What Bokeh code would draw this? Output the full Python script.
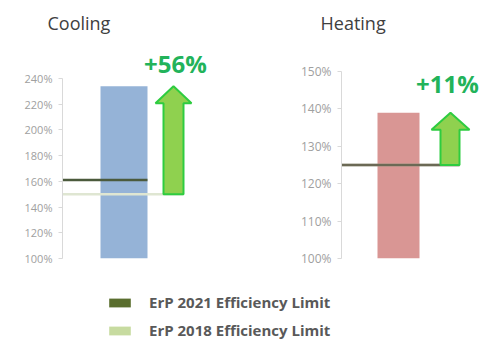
from bokeh.plotting import figure
from bokeh.models import Range1d, FixedTicker, PrintfTickFormatter, Legend, LegendItem
from bokeh.layouts import column, row
from bokeh.embed import file_html
from bokeh.resources import INLINE
from bokeh.core.properties import value

# ---- data ----
categories = ["Cooling", "Heating"]
efficiency = [234, 139]          # % efficiency of the product
erp_2021 = [161, 125]            # ErP 2021 efficiency limit (%)
erp_2018 = [150, 125]            # ErP 2018 efficiency limit (%)
increase_labels = ["+56%", "+11%"]
cool_ticks = [100, 120, 140, 160, 180, 200, 220, 240]
heat_ticks = [100, 110, 120, 130, 140, 150]
legend_labels = ["ErP 2021 Efficiency Limit", "ErP 2018 Efficiency Limit"]

BAR_COLORS = ["#95b3d7", "#d99694"]
DARK = "#5a6e2e"
LIGHT = "#c7dba0"
GREEN_TXT = "#22b35a"
FONT = "Open Sans"
TOP = 40  # top border holding the panel title


def panel(i, width, border_left, y_top, ticks, geo, line_cols, tick_size, title_offset):
    p = figure(width=width, height=280, output_backend="svg", toolbar_location=None,
               x_range=Range1d(0, width - border_left), y_range=Range1d(100, y_top),
               min_border_left=border_left, min_border_right=0, min_border_top=TOP,
               min_border_bottom=22, x_axis_location=None, outline_line_color=None,
               title=categories[i])
    p.title.align = "left"
    p.title.offset = title_offset
    p.title.text_font = FONT
    p.title.text_font_size = "18px"
    p.title.text_font_style = "normal"
    p.title.text_color = "#404040"
    p.title.standoff = 12
    p.grid.visible = False
    p.background_fill_color = None
    p.border_fill_color = None
    ax = p.yaxis[0]
    ax.ticker = FixedTicker(ticks=ticks)
    ax.formatter = PrintfTickFormatter(format="%d%%")
    ax.bounds = (ticks[0], ticks[-1])
    ax.axis_line_color = "#d9d9d9"
    ax.major_tick_line_color = "#d9d9d9"
    ax.major_tick_out = 4
    ax.major_tick_in = 0
    ax.minor_tick_line_color = None
    ax.major_label_text_font = FONT
    ax.major_label_text_font_size = tick_size
    ax.major_label_text_color = "#a0a0a0"
    ax.major_label_standoff = 6

    scale = (258.0 - TOP) / (y_top - 100)  # px per %
    bx0, bx1, lx1_dark, lx1_light, sh0, sh1, hd0, hd1, lab_x, lab_dy = geo

    # bar
    p.quad(left=[bx0], right=[bx1], bottom=[100], top=[efficiency[i]],
           fill_color=BAR_COLORS[i], line_color=None, fill_alpha=1.0)
    # limit lines
    p.line(x=[0, lx1_light], y=[erp_2018[i]] * 2, line_color=line_cols[1], line_width=2.5)
    p.line(x=[0, lx1_dark], y=[erp_2021[i]] * 2, line_color=line_cols[0], line_width=2.5)
    # arrow
    base = erp_2018[i]
    tip = efficiency[i]
    head = 17.0 / scale
    xs = [sh0, sh1, sh1, hd1, (hd0 + hd1) / 2, hd0, sh0]
    ys = [base, base, tip - head, tip - head, tip, tip - head, tip - head]
    p.patch(x=xs, y=ys, fill_color="#8fd14f", line_color="#2ecc40", line_width=2)
    # increase label
    p.text(x=[lab_x], y=[tip + lab_dy / scale], text=[increase_labels[i]],
           text_font=value(FONT), text_font_size="24px", text_font_style="bold",
           text_color=GREEN_TXT, text_align="center", text_baseline="middle")
    return p


# cooling: 240% at canvas y 78, 1.286 px per %
cool = panel(0, 246, 62, 240 + (78 - TOP) / 1.286, cool_ticks,
             (38, 85, 85, 121, 101, 121, 93, 129, 113, 23),
             ("#4b5a3c", "#dfe6d2"), "11px", -15)
# heating: 150% at canvas y 71, 3.74 px per %
heat = panel(1, 246, 95, 150 + (71 - TOP) / 3.74, heat_ticks,
             (36, 78, 118, 118, 99, 118, 90, 128, 106, 29),
             ("#6b6955", "#c7c8b0"), "12px", -21)

leg = figure(width=492, height=60, output_backend="svg", toolbar_location=None,
             x_range=Range1d(0, 1), y_range=Range1d(0, 1),
             min_border=0, x_axis_location=None, y_axis_location=None,
             outline_line_color=None)
leg.grid.visible = False
r1 = leg.quad(left=[5], right=[6], bottom=[5], top=[6], fill_color=DARK, line_color=None)
r2 = leg.quad(left=[5], right=[6], bottom=[5], top=[6], fill_color=LIGHT, line_color=None)
legend = Legend(items=[LegendItem(label=legend_labels[0], renderers=[r1]),
                       LegendItem(label=legend_labels[1], renderers=[r2])],
                location=(106, 0), orientation="vertical",
                glyph_width=27, glyph_height=11, label_height=20, spacing=8,
                label_standoff=16, padding=0, margin=0,
                border_line_color=None, background_fill_alpha=0,
                label_text_font=FONT, label_text_font_size="15px",
                label_text_font_style="bold", label_text_color="#595959")
leg.add_layout(legend)

layout = column(row(cool, heat), leg)
open("out.html", "w").write(file_html(layout, INLINE))
